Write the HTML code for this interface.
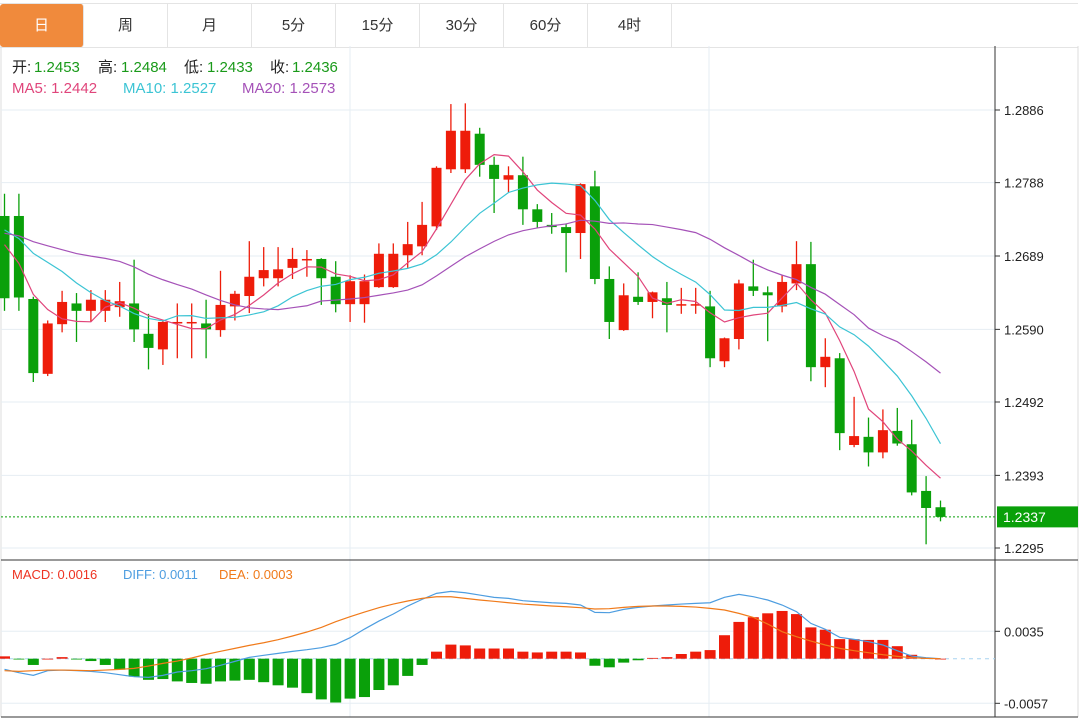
<!DOCTYPE html>
<html><head><meta charset="utf-8">
<style>
html,body{margin:0;padding:0;background:#fff;width:1089px;height:721px;overflow:hidden;font-family:"Liberation Sans","Noto Sans CJK SC",sans-serif;}
#tabs{position:absolute;left:0;top:3px;height:43px;width:1078px;border-top:1px solid #e4e4e4;border-bottom:1px solid #e4e4e4;}
.tab{position:absolute;top:0;height:43px;width:84px;line-height:43px;text-align:center;font-size:15px;color:#333;border-right:1px solid #e4e4e4;box-sizing:border-box;}
.tab.active{background:#f08a3c;color:#fff;border-radius:3px;}
svg{position:absolute;left:0;top:0;}
</style></head><body>
<div id="tabs">
<div class="tab active" style="left:0">日</div>
<div class="tab" style="left:84px">周</div>
<div class="tab" style="left:168px">月</div>
<div class="tab" style="left:252px">5分</div>
<div class="tab" style="left:336px">15分</div>
<div class="tab" style="left:420px">30分</div>
<div class="tab" style="left:504px">60分</div>
<div class="tab" style="left:588px">4时</div>
</div>
<svg id="chart" width="1089" height="721" style="top:0"></svg>
<script>
// OHLC candles
const opens=[1.2743,1.2743,1.2631,1.2530,1.2597,1.2625,1.2615,1.2615,1.2620,1.2625,1.2584,1.2563,1.2599,1.2599,1.2598,1.2589,1.2621,1.2635,1.2659,1.2659,1.2673,1.2684,1.2685,1.2661,1.2624,1.2624,1.2647,1.2647,1.2690,1.2702,1.2729,1.2806,1.2806,1.2854,1.2812,1.2792,1.2798,1.2752,1.2731,1.2728,1.2720,1.2783,1.2658,1.2589,1.2634,1.2627,1.2632,1.2623,1.2623,1.2621,1.2547,1.2577,1.2648,1.2640,1.2621,1.2652,1.2678,1.2539,1.2551,1.2434,1.2445,1.2424,1.2453,1.2435,1.2372,1.2350];
const highs=[1.2773,1.2773,1.2634,1.2602,1.2642,1.2639,1.2643,1.2643,1.2654,1.2684,1.2611,1.2602,1.2625,1.2625,1.2630,1.2669,1.2642,1.2709,1.2701,1.2701,1.2700,1.2697,1.2686,1.2682,1.2663,1.2664,1.2706,1.2706,1.2735,1.2762,1.2810,1.2894,1.2895,1.2862,1.2823,1.2810,1.2823,1.2759,1.2747,1.2733,1.2787,1.2804,1.2675,1.2652,1.2667,1.2641,1.2654,1.2646,1.2646,1.2642,1.2579,1.2657,1.2684,1.2648,1.2663,1.2709,1.2708,1.2578,1.2558,1.2499,1.2471,1.2482,1.2484,1.2468,1.2392,1.2359];
const lows=[1.2615,1.2615,1.2519,1.2527,1.2586,1.2573,1.2600,1.2600,1.2607,1.2573,1.2536,1.2542,1.2551,1.2551,1.2551,1.2580,1.2602,1.2612,1.2648,1.2648,1.2658,1.2661,1.2623,1.2613,1.2600,1.2599,1.2646,1.2646,1.2673,1.2690,1.2724,1.2801,1.2801,1.2796,1.2747,1.2775,1.2731,1.2727,1.2719,1.2667,1.2685,1.2651,1.2577,1.2588,1.2623,1.2605,1.2586,1.2611,1.2611,1.2539,1.2539,1.2563,1.2635,1.2574,1.2613,1.2643,1.2520,1.2512,1.2427,1.2431,1.2405,1.2416,1.2433,1.2366,1.2300,1.2331];
const closes=[1.2632,1.2633,1.2531,1.2598,1.2627,1.2615,1.2630,1.2630,1.2628,1.2590,1.2565,1.2600,1.2600,1.2600,1.2590,1.2623,1.2638,1.2661,1.2670,1.2671,1.2685,1.2685,1.2659,1.2624,1.2655,1.2655,1.2692,1.2692,1.2705,1.2731,1.2808,1.2858,1.2858,1.2812,1.2793,1.2798,1.2752,1.2735,1.2728,1.2720,1.2786,1.2658,1.2600,1.2636,1.2627,1.2640,1.2623,1.2624,1.2624,1.2551,1.2578,1.2652,1.2642,1.2636,1.2654,1.2678,1.2539,1.2553,1.2450,1.2446,1.2424,1.2454,1.2436,1.2370,1.2349,1.2337];
// closes before the visible window (for moving averages)
const prevCloses=[1.2700,1.2690,1.2710,1.2730,1.2720,1.2700,1.2690,1.2710,1.2740,1.2760,1.2750,1.2730,1.2720,1.2750,1.2770,1.2760,1.2740,1.2700,1.2690];
const priceTicks=[1.2886,1.2788,1.2689,1.2590,1.2492,1.2393,1.2295];
// MACD panel (units of 0.0001)
const macdBars=[3,-1,-8,0,2,-1,-3,-8,-14,-23,-27,-26,-29,-31,-32,-29,-28,-27,-30,-34,-37,-44,-52,-56,-51,-49,-40,-34,-22,-8,9,18,17,13,13,13,9,8,9,9,8,-9,-11,-5,-2,1,2,6,9,11,30,47,53,58,61,57,40,37,25,25,24,24,16,5,1,0];
const diffLine=[-13.6,-17.9,-21.3,-15.3,-14.5,-15.3,-16.2,-17.9,-20.4,-23.0,-23.9,-21.3,-17.0,-15.3,-12.8,-8.5,-3.4,1.7,4.3,6.8,9.4,11.5,14.1,18.3,26.8,37.9,48.1,57.1,67.3,75.8,83.5,86.0,84.3,81.3,78.4,77.1,74.1,72.8,71.5,70.7,68.6,59.2,58.8,63.0,65.6,67.3,68.6,69.8,70.7,71.5,78.4,82.2,79.2,75.0,68.6,60.1,45.1,37.5,27.3,24.7,21.7,17.5,10.2,3.4,1.3,0];
const deaLine=[-15.3,-16.2,-15.3,-14.5,-14.5,-14.9,-15.3,-14.5,-13.6,-12.4,-9.4,-6.0,-3.0,0.9,5.5,9.4,13.2,17.0,20.4,24.3,29.0,34.1,40.0,47.3,53.7,59.6,65.2,69.8,73.7,77.1,79.2,79.2,77.1,75.0,73.3,71.5,69.8,68.6,67.3,66.4,65.2,63.5,63.9,65.6,66.9,67.3,67.3,66.9,66.0,64.3,62.2,57.9,52.8,44.3,34.5,28.1,22.6,17.5,13.2,10.2,7.7,5.1,3.0,1.3,0.4,0,0].slice(0,66);
const macdTicks=[0.0035,-0.0057];

const svg=document.getElementById('chart');
const NS='http://www.w3.org/2000/svg';
function mk(tag,attrs,parent){const e=document.createElementNS(NS,tag);for(const k in attrs)e.setAttribute(k,attrs[k]);(parent||svg).appendChild(e);return e;}
const xOf=i=>4.5+i*14.4;
const yP=p=>110+(1.2886-p)*(548-110)/(1.2886-1.2295);
const yM=v=>658.7-v*10000*0.7826;
const UP='#ee1c0a',DN='#0aa00a';

// frame & grid
let g=mk('g',{});
mk('line',{x1:1,y1:46,x2:1,y2:717,stroke:'#ddd'},g);
mk('line',{x1:1078,y1:46,x2:1078,y2:717,stroke:'#ddd'},g);
mk('line',{x1:350,y1:46,x2:350,y2:717,stroke:'#e6edf3'},g);
mk('line',{x1:709,y1:46,x2:709,y2:717,stroke:'#e6edf3'},g);
priceTicks.forEach(t=>{const y=yP(t);mk('line',{x1:1,y1:y,x2:995,y2:y,stroke:'#e6edf3'},g);mk('line',{x1:995,y1:y,x2:1000,y2:y,stroke:'#333'},g);
 const tx=mk('text',{x:1004,y:y+5,'font-size':13,fill:'#222'},g);tx.textContent=t.toFixed(4);
 });
macdTicks.forEach(t=>{const y=yM(t);mk('line',{x1:1,y1:y,x2:995,y2:y,stroke:'#e6edf3'},g);mk('line',{x1:995,y1:y,x2:1000,y2:y,stroke:'#333'},g);
 const tx=mk('text',{x:1004,y:y+5,'font-size':13,fill:'#222'},g);tx.textContent=t.toFixed(4);
 });
mk('line',{x1:995,y1:46,x2:995,y2:717,stroke:'#333'},g);
mk('line',{x1:1,y1:560,x2:1078,y2:560,stroke:'#333'},g);
mk('line',{x1:1,y1:717,x2:1078,y2:717,stroke:'#333'},g);
mk('line',{x1:1,y1:yM(0),x2:995,y2:yM(0),stroke:'#a8d4f0','stroke-dasharray':'4,4'},g);

// candles
closes.forEach((c,i)=>{const o=opens[i],up=c>=o,col=up?UP:DN,x=xOf(i);
 const cg=mk('g',{});
 mk('line',{x1:x,y1:yP(highs[i]),x2:x,y2:yP(lows[i]),stroke:col,'stroke-width':1.3},cg);
 const t=yP(Math.max(o,c)),b=yP(Math.min(o,c));
 mk('rect',{x:x-5,y:t,width:10,height:Math.max(1.5,b-t),fill:col},cg);});

// moving averages
const all=prevCloses.concat(closes),P=prevCloses.length;
function ma(n){return closes.map((_,i)=>{let s=0,k=0;for(let j=P+i;j>P+i-n&&j>=0;j--){s+=all[j];k++;}return s/k;});}
[[5,'#e0457b','ma5-line'],[10,'#3cc4d4','ma10-line'],[20,'#a552b8','ma20-line']].forEach(([n,col,nm])=>{
 const v=ma(n);const pl=mk('polyline',{points:v.map((p,i)=>xOf(i)+','+yP(p)).join(' '),fill:'none',stroke:col,'stroke-width':1.2});
 });

// current price
const last=closes[closes.length-1],ly=yP(last);
const cl=mk('line',{x1:1,y1:ly,x2:995,y2:ly,stroke:'#0aa00a','stroke-dasharray':'2,2'});

const lb=mk('rect',{x:997,y:ly-10.5,width:81,height:21,fill:'#0aa00a'});

const lt=mk('text',{x:1003,y:ly+5,'font-size':14,fill:'#fff'});lt.textContent=last.toFixed(4);

// MACD bars and lines
macdBars.forEach((v,i)=>{const x=xOf(i),y0=yM(0),y1=yM(v/10000);
 const r=mk('rect',{x:x-5.5,y:Math.min(y0,y1),width:11,height:Math.max(0.8,Math.abs(y1-y0)),fill:v>=0?UP:DN});
 });
[[diffLine,'#4d9de0','diff-line'],[deaLine,'#f07a1a','dea-line']].forEach(([arr,col,nm])=>{
 const pl=mk('polyline',{points:arr.map((v,i)=>xOf(i)+','+yM(v/10000)).join(' '),fill:'none',stroke:col,'stroke-width':1.2});
 });

// legends
function txt(x,y,s,col,name){const t=mk('text',{x:x,y:y,'font-size':15,fill:col});t.textContent=s;return t;}
const L=[[12,'开:','#222'],[34,'1.2453','#1a9a1a'],[98,'高:','#222'],[121,'1.2484','#1a9a1a'],[184,'低:','#222'],[207,'1.2433','#1a9a1a'],[270,'收:','#222'],[292,'1.2436','#1a9a1a']];
L.forEach(([x,s,c])=>txt(x,72,s,c,'ohlc-legend'));
txt(12,93,'MA5: 1.2442','#e0457b','ma5-legend');
txt(123,93,'MA10: 1.2527','#3cc4d4','ma10-legend');
txt(242,93,'MA20: 1.2573','#a552b8','ma20-legend');
const m1=txt(12,579,'MACD: 0.0016','#ee3322','macd-legend');m1.setAttribute('font-size',13);
const m2=txt(123,579,'DIFF: 0.0011','#4d9de0','diff-legend');m2.setAttribute('font-size',13);
const m3=txt(219,579,'DEA: 0.0003','#f07a1a','dea-legend');m3.setAttribute('font-size',13);
</script>
</body></html>
